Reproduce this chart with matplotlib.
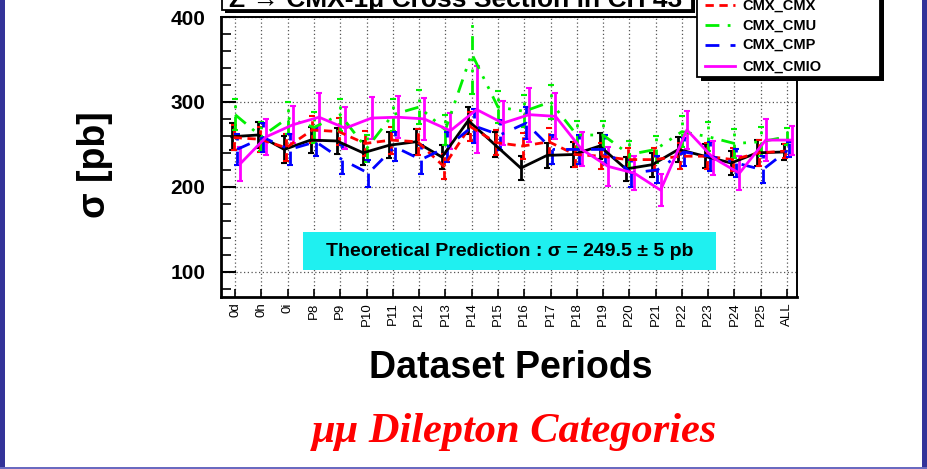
import numpy as np
import matplotlib.pyplot as plt
from matplotlib.patches import Rectangle
from matplotlib.lines import Line2D

periods = ['0d', '0h', '0i', 'P8', 'P9', 'P10', 'P11', 'P12', 'P13', 'P14', 'P15',
           'P16', 'P17', 'P18', 'P19', 'P20', 'P21', 'P22', 'P23', 'P24', 'P25', 'ALL']

# cross sections [pb] and errors per category
xs_all = [259, 261, 244, 255, 254, 240, 249, 253, 235, 278, 250,
          222, 237, 238, 248, 221, 226, 244, 236, 228, 240, 241]
err_all = [16, 15, 16, 15, 15, 14, 15, 15, 14, 16, 15,
           14, 15, 15, 15, 14, 14, 15, 14, 14, 15, 9]
xs_cmx = [258, 256, 246, 267, 265, 251, 255, 253, 224, 271, 252,
          248, 253, 238, 236, 232, 232, 236, 236, 232, 240, 242]
err_cmx = [15, 15, 16, 16, 16, 15, 16, 15, 15, 17, 15,
           15, 16, 15, 15, 14, 14, 15, 15, 14, 15, 8]
xs_cmu = [285, 259, 281, 270, 285, 245, 285, 294, 267, 357, 294,
          289, 300, 261, 261, 238, 244, 265, 259, 251, 253, 259]
err_cmu = [18, 17, 19, 18, 19, 16, 19, 20, 18, 48, 19,
           19, 20, 17, 17, 16, 16, 18, 17, 17, 17, 10]
xs_cmp = [244, 258, 244, 253, 232, 216, 247, 232, 247, 272, 261,
          275, 244, 244, 244, 216, 220, 241, 236, 228, 220, 244]
err_cmp = [18, 17, 18, 17, 17, 16, 17, 17, 18, 20, 18,
           19, 17, 17, 17, 16, 16, 17, 17, 16, 16, 9]
xs_cmio = [227, 259, 273, 282, 269, 281, 282, 280, 266, 291, 275,
           285, 283, 244, 224, 216, 196, 267, 234, 216, 255, 255]
err_cmio = [20, 21, 22, 28, 25, 25, 25, 25, 21, 51, 26,
            32, 27, 20, 23, 20, 19, 22, 20, 20, 25, 17]

W, H = 928, 469
fig = plt.figure(figsize=(W / 100, H / 100), dpi=100)


def fx(px):
    return px / W


def fy(py):
    return 1 - py / H


ax = fig.add_axes([fx(220.7), fy(297), fx(797) - fx(220.7), fy(16.7) - fy(297)])
x = np.arange(len(periods))

series = [
    (xs_all, err_all, 'black', None, -0.13),
    (xs_cmx, err_cmx, '#ff0000', (3, 2), -0.06),
    (xs_cmu, err_cmu, '#00f000', (5, 3, 1, 3, 1, 3), 0.0),
    (xs_cmp, err_cmp, '#0000ff', (5, 4, 5, 4, 1, 4), 0.07),
    (xs_cmio, err_cmio, '#ff00ff', None, 0.19),
]
for vals, errs, col, dash, off in series:
    eb = ax.errorbar(x + off, vals, yerr=errs, color=col, lw=2, elinewidth=2,
                     capsize=2, capthick=1.5, zorder=3)
    if dash is not None:
        eb[0].set_dashes(dash)
        eb[2][0].set_linestyle((0, dash))

ax.set_xlim(-0.55, 21.38)
ax.set_ylim(70, 400.5)
ax.set_xticks(x)
ax.set_xticklabels(periods, rotation=90, fontsize=9.5, family='Liberation Sans')
ax.set_yticks([100, 200, 300, 400])
ax.set_yticks(np.arange(80, 400, 20), minor=True)
ax.set_yticklabels(['100', '200', '300', '400'], fontsize=15, fontweight='bold',
                   family='Liberation Sans')
ax.tick_params(axis='y', which='major', direction='in', length=11, width=1.5, pad=11)
ax.tick_params(axis='y', which='minor', direction='in', length=7, width=1.2)
ax.tick_params(axis='x', which='major', direction='in', length=6, width=1.2, pad=4)
ax.grid(True, which='major', color='#555555', lw=0.9, ls=(0, (1, 2)))
for side in ['left', 'bottom']:
    ax.spines[side].set_linewidth(2)
for side in ['top', 'right']:
    ax.spines[side].set_linewidth(1.4)

# theory box
fig.patches.append(Rectangle((fx(303), fy(270)), fx(716) - fx(303), fy(232) - fy(270),
                             transform=fig.transFigure, facecolor='#1ff0f0',
                             edgecolor='none', zorder=5))
fig.text(fx(510), fy(251), 'Theoretical Prediction : σ = 249.5 ± 5 pb', ha='center',
         va='center', fontsize=14, fontweight='bold', family='Liberation Sans', zorder=6)

# title box, mostly above the top edge
fig.patches.append(Rectangle((fx(224.7), fy(13)), fx(694.7) - fx(224.7), 0.2,
                             transform=fig.transFigure, facecolor='black', zorder=5))
fig.patches.append(Rectangle((fx(221.7), fy(10)), fx(691.7) - fx(221.7), 0.2,
                             transform=fig.transFigure, facecolor='white',
                             edgecolor='black', lw=1.3, zorder=6))
fig.text(fx(456), fy(6.5), 'Z → CMX-1μ Cross Section in CH 43', ha='center', va='baseline',
         fontsize=19, fontweight='bold', family='Liberation Sans', zorder=7)

# legend box, mostly above the top edge
lx0, lx1, ly1 = 697, 880, 77
fig.patches.append(Rectangle((fx(lx0 + 4), fy(ly1 + 4)), fx(lx1) - fx(lx0), 0.3,
                             transform=fig.transFigure, facecolor='black', zorder=5))
fig.patches.append(Rectangle((fx(lx0), fy(ly1)), fx(lx1) - fx(lx0), 0.3,
                             transform=fig.transFigure, facecolor='white',
                             edgecolor='black', lw=1.3, zorder=6))
leg_names = ['CMX_CMX', 'CMX_CMU', 'CMX_CMP', 'CMX_CMIO']
leg_y = [5.5, 25.5, 45, 66.5]
for (vals, errs, col, dash, off), name, yy in zip(series[1:], leg_names, leg_y):
    ln = Line2D([fx(705), fx(735)], [fy(yy), fy(yy)], transform=fig.transFigure,
                color=col, lw=2, zorder=7)
    if dash is not None:
        ln.set_dashes(dash)
    fig.lines.append(ln)
    fig.text(fx(742), fy(yy), name, ha='left', va='center', fontsize=10.5,
             fontweight='bold', family='Liberation Sans', zorder=7)

fig.text(fx(95), fy(165), 'σ [pb]', rotation=90, ha='center', va='center',
         fontsize=27, fontweight='bold', family='Liberation Sans')
fig.text(fx(511), fy(368), 'Dataset Periods', ha='center', va='center',
         fontsize=27, fontweight='bold', family='Liberation Sans')
fig.text(fx(514), fy(432), 'μμ Dilepton Categories', ha='center', va='center',
         fontsize=30.5, fontweight='bold', style='italic', color='#ff0000',
         family='Liberation Serif')

# slide frame
fig.patches.append(Rectangle((0, 0), fx(5), 1, transform=fig.transFigure,
                             facecolor='#333399', edgecolor='none', zorder=8))
fig.patches.append(Rectangle((fx(922), 0), fx(928) - fx(922), 1, transform=fig.transFigure,
                             facecolor='#333399', edgecolor='none', zorder=8))
fig.patches.append(Rectangle((0, 0), 1, 2.5 / H, transform=fig.transFigure,
                             facecolor='#6a6ac0', edgecolor='none', zorder=8))

fig.savefig('out.png', dpi=100)
